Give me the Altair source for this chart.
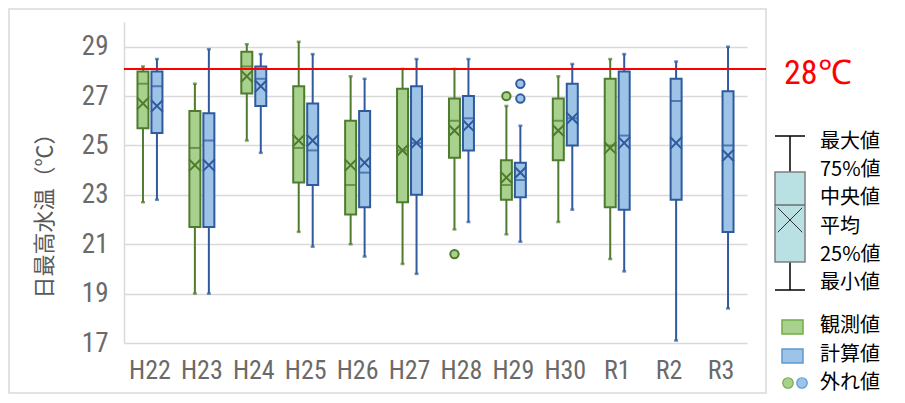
import altair as alt
import pandas as pd

years = ["H22", "H23", "H24", "H25", "H26", "H27", "H28", "H29", "H30", "R1", "R2", "R3"]
series = ["観測値", "計算値"]

# 観測値 (H22..R1)
obs_max = [28.2, 27.5, 29.1, 29.2, 27.8, 28.1, 28.1, 26.6, 27.8, 28.5]
obs_q3 = [28.0, 26.4, 28.8, 27.4, 26.0, 27.3, 26.9, 24.4, 26.9, 27.7]
obs_med = [27.5, 24.9, 28.2, 24.9, 23.4, 24.8, 26.0, 23.4, 26.0, 25.0]
obs_mean = [26.7, 24.2, 27.8, 25.2, 24.2, 24.8, 25.6, 23.7, 25.6, 24.9]
obs_q1 = [25.7, 21.7, 27.1, 23.5, 22.2, 22.7, 24.5, 22.8, 24.4, 22.5]
obs_min = [22.7, 19.0, 25.2, 21.5, 21.0, 20.2, 21.6, 21.4, 21.9, 20.4]

# 計算値 (H22..R3)
calc_max = [28.5, 28.9, 28.7, 28.7, 27.7, 28.5, 28.5, 25.8, 28.3, 28.7, 28.4, 29.0]
calc_q3 = [28.0, 26.3, 28.2, 26.7, 26.4, 27.4, 27.0, 24.3, 27.5, 28.0, 27.7, 27.2]
calc_med = [27.4, 25.2, 27.7, 24.8, 23.9, 25.1, 26.1, 23.6, 26.1, 25.4, 26.8, 25.0]
calc_mean = [26.6, 24.2, 27.4, 25.2, 24.3, 25.1, 25.8, 23.9, 26.1, 25.1, 25.1, 24.6]
calc_q1 = [25.5, 21.7, 26.6, 23.4, 22.5, 23.0, 24.8, 22.9, 25.0, 22.4, 22.8, 21.5]
calc_min = [22.8, 19.0, 24.7, 20.9, 20.5, 19.8, 21.9, 21.1, 22.4, 19.9, 17.1, 18.4]

# 外れ値
out_year = ["H28", "H29", "H29", "H29"]
out_series = ["観測値", "観測値", "計算値", "計算値"]
out_value = [20.6, 27.0, 27.5, 26.9]

threshold = [28.1]
y_ticks = [17, 19, 21, 23, 25, 27, 29]

rows = []
for i in range(len(obs_max)):
    rows.append(dict(year=years[i], series=series[0], mx=obs_max[i], q3=obs_q3[i], med=obs_med[i],
                     mean=obs_mean[i], q1=obs_q1[i], mn=obs_min[i]))
for i in range(len(calc_max)):
    rows.append(dict(year=years[i], series=series[1], mx=calc_max[i], q3=calc_q3[i], med=calc_med[i],
                     mean=calc_mean[i], q1=calc_q1[i], mn=calc_min[i]))
df = pd.DataFrame(rows)
out_df = pd.DataFrame(dict(year=out_year, series=out_series, v=out_value))
thr_df = pd.DataFrame(dict(v=threshold))
one = pd.DataFrame({"a": [0]})

NUM_FONT = "Liberation Sans Narrow, Roboto Condensed, Roboto, sans-serif"
JP_FONT = "Noto Sans CJK JP"
LBL = "#6a6a6a"
GREEN_D, BLUE_D = "#4f7b2f", "#2f5b9e"
GREEN_F, BLUE_F = "#a9d18e", "#9dc3e6"

yscale = alt.Scale(domain=[17, 30], nice=False, zero=False)
yaxis = alt.Axis(values=y_ticks, grid=True, gridColor="#d9d9d9", gridWidth=1.5,
                 domain=True, domainColor="#d9d9d9", domainWidth=1.5, ticks=False,
                 labelFont=NUM_FONT, labelFontSize=27, labelColor=LBL, labelPadding=16,
                 title="日最高水温（℃）", titleFont=JP_FONT, titleFontSize=22, titleFontWeight="normal",
                 titleColor="#595959", titleX=-80, titleY=188, titleAngle=-90,
                 titleAlign="center", titleBaseline="middle")

def Y(f):
    return alt.Y(f, type="quantitative", scale=yscale, axis=yaxis)

X = alt.X("year:N", sort=years, scale=alt.Scale(domain=years, paddingInner=0, paddingOuter=0),
          axis=alt.Axis(title=None, domain=False, ticks=False, grid=False, labelAngle=0,
                        labelFont=NUM_FONT, labelFontSize=26, labelColor=LBL, labelPadding=14))
XO = alt.XOffset("series:N", scale=alt.Scale(domain=series, paddingInner=0, paddingOuter=0.857))
C = alt.Color("series:N", scale=alt.Scale(domain=series, range=[GREEN_D, BLUE_D]), legend=None)
S = alt.Stroke("series:N", scale=alt.Scale(domain=series, range=[GREEN_D, BLUE_D]), legend=None)
F = alt.Fill("series:N", scale=alt.Scale(domain=series, range=[GREEN_F, BLUE_F]), legend=None)

base = alt.Chart(df).encode(x=X, xOffset=XO)
whisk = base.mark_rule(strokeWidth=2).encode(y=Y("mn"), y2="mx:Q", color=C)
cap_hi = base.mark_tick(size=4, thickness=2.5).encode(y=Y("mx"), color=C)
cap_lo = base.mark_tick(size=4, thickness=2.5).encode(y=Y("mn"), color=C)
box = base.mark_bar(size=11, strokeWidth=2).encode(y=Y("q1"), y2="q3:Q", fill=F, stroke=S)
med = base.mark_tick(size=12, thickness=2).encode(y=Y("med"), color=C)
mean = base.mark_point(shape="M-1,-1L1,1M-1,1L1,-1", size=140, strokeWidth=2, filled=False,
                       opacity=1).encode(y=Y("mean"), stroke=S)
outl = alt.Chart(out_df).mark_point(shape="circle", size=70, strokeWidth=2, filled=True, opacity=1).encode(
    x=X, xOffset=XO, y=Y("v"), fill=F, stroke=S)
red = alt.Chart(thr_df).mark_rule(color="#ff0000", strokeWidth=2).encode(
    y=Y("v"), x=alt.value(0), x2=alt.value(642))

# decorations (chart frame, 28℃ label, legend)
frame = alt.Chart(one).mark_rect(fill="transparent", stroke="#d9d9d9", strokeWidth=1.5).encode(
    x=alt.value(-115), x2=alt.value(642), y=alt.value(-13), y2=alt.value(371))

def txt(s, x, y, size, color, font=JP_FONT):
    return alt.Chart(one).mark_text(text=s, align="left", baseline="middle", fontSize=size,
                                    color=color, font=font).encode(x=alt.value(x), y=alt.value(y))

def line(x1, x2, y1, y2, color="#000000", w=1.5):
    return alt.Chart(one).mark_rule(color=color, strokeWidth=w).encode(
        x=alt.value(x1), x2=alt.value(x2), y=alt.value(y1), y2=alt.value(y2))

label28 = txt("28℃", 660, 52, 34, "#ff0000", NUM_FONT)

leg = [
    line(666, 666, 114, 268),
    line(651, 681, 114, 114),
    line(651, 681, 268, 268),
    alt.Chart(one).mark_rect(fill="#b9e1e4", stroke="#7f7f7f", strokeWidth=1.5).encode(
        x=alt.value(651), x2=alt.value(681), y=alt.value(150), y2=alt.value(240)),
    line(651, 681, 183, 183, "#555555", 1.2),
    alt.Chart(one).mark_point(shape="M-1,-1L1,1M-1,1L1,-1", size=600, strokeWidth=1, filled=False,
                              color="#333333", opacity=1).encode(x=alt.value(666), y=alt.value(198)),
]
leg_labels = ["最大値", "75%値", "中央値", "平均", "25%値", "最小値"]
leg_y = [120, 148, 176, 205, 233, 261]
for s, yy in zip(leg_labels, leg_y):
    leg.append(txt(s, 696, yy, 20, "#000000"))

leg += [
    alt.Chart(one).mark_rect(fill=GREEN_F, stroke="#70ad47", strokeWidth=1.5).encode(
        x=alt.value(658), x2=alt.value(679), y=alt.value(298), y2=alt.value(312)),
    alt.Chart(one).mark_rect(fill=BLUE_F, stroke="#5b9bd5", strokeWidth=1.5).encode(
        x=alt.value(658), x2=alt.value(679), y=alt.value(327), y2=alt.value(341)),
    alt.Chart(one).mark_point(shape="circle", size=110, fill=GREEN_F, stroke="#70ad47", strokeWidth=1.2,
                              filled=True, opacity=1).encode(x=alt.value(664), y=alt.value(361)),
    alt.Chart(one).mark_point(shape="circle", size=110, fill=BLUE_F, stroke="#5b9bd5", strokeWidth=1.2,
                              filled=True, opacity=1).encode(x=alt.value(678), y=alt.value(361)),
    txt("観測値", 696, 304, 20, "#000000"),
    txt("計算値", 696, 333, 20, "#000000"),
    txt("外れ値", 696, 361, 20, "#000000"),
]

chart = alt.layer(frame, whisk, cap_hi, cap_lo, box, med, mean, outl, red, label28, *leg).properties(
    width=623, height=321,
    autosize=alt.AutoSizeParams(type="none"),
    padding={"left": 116, "top": 14, "right": 150, "bottom": 52},
    background="white",
).configure_view(strokeWidth=0)

chart.save("out.html", embed_options={"renderer": "svg", "actions": False})
